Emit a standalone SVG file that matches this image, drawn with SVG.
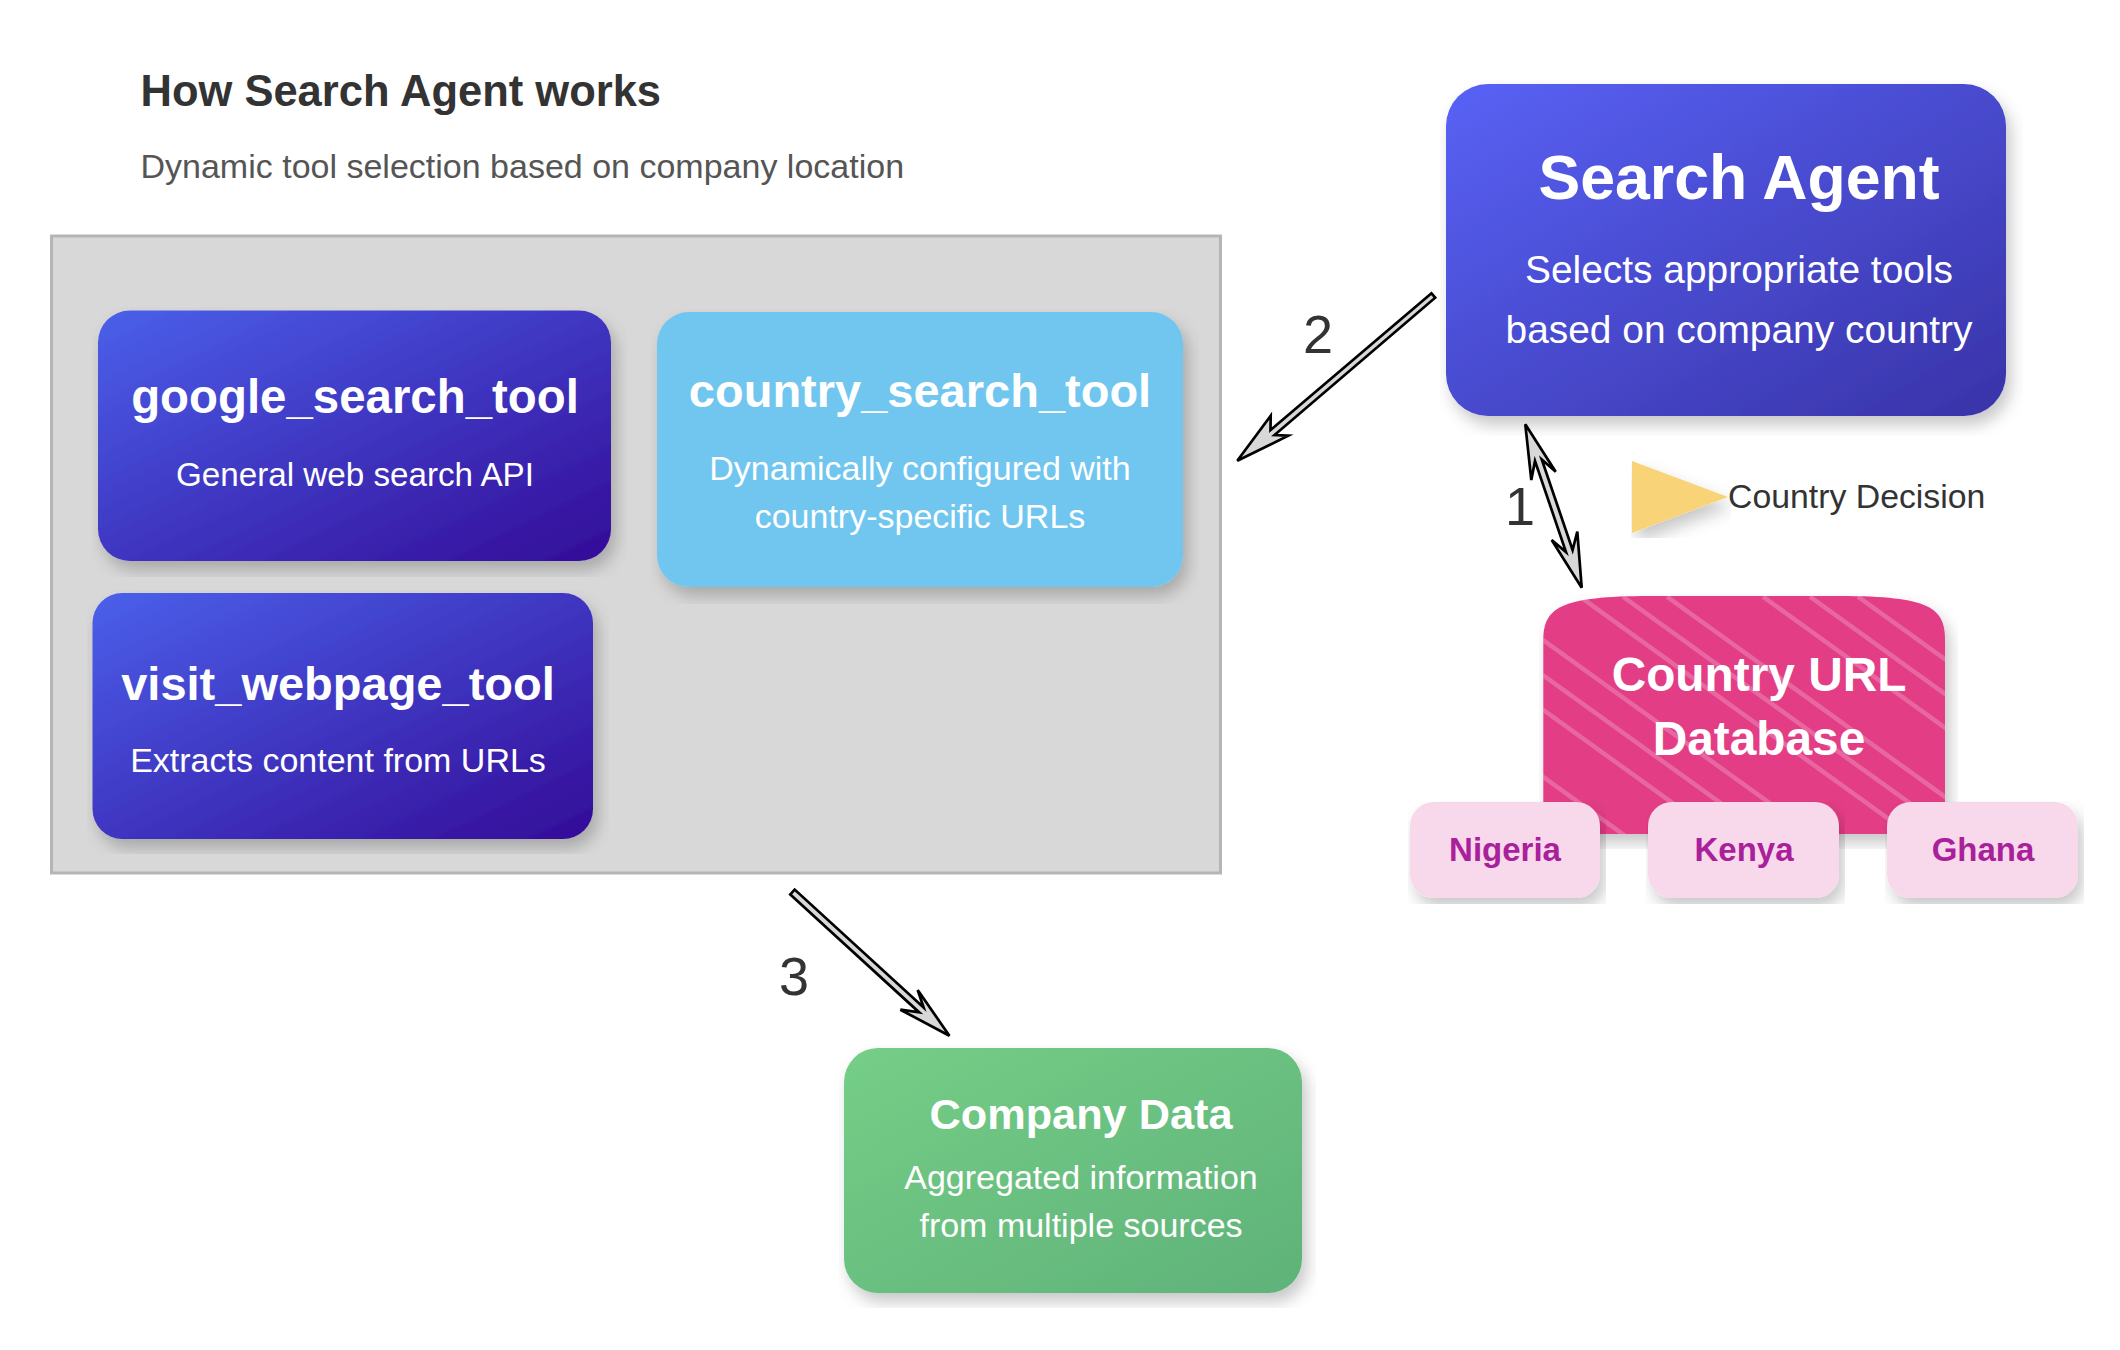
<svg xmlns="http://www.w3.org/2000/svg" width="2120" height="1350" viewBox="0 0 2120 1350">
<style>
text{font-family:"Liberation Sans",Arial,sans-serif;text-anchor:middle;fill:#fff}
.b{font-weight:700}
.head{font-size:47px;font-weight:700}
.sub{font-size:34px}
.chip{font-size:33px;font-weight:700;fill:#a8209a}
.num{font-size:54px;fill:#333}
.arrow{fill:#d8d8d8;stroke:#000;stroke-width:2.7;stroke-linejoin:miter}
.hatch line{stroke:#fff;stroke-opacity:.22;stroke-width:4.5}
</style>
<defs>
<filter id="sh" x="-1%" y="-1%" width="104%" height="107%">
<feDropShadow dx="5" dy="9" stdDeviation="8" flood-color="#000" flood-opacity=".22"/>
</filter>
<linearGradient id="gAgent" x1="0" y1="0" x2="1" y2="1"><stop offset="0" stop-color="#5862f5"/><stop offset="1" stop-color="#3933a8"/></linearGradient>
<linearGradient id="gTool" x1="0" y1="0" x2="1" y2="1"><stop offset="0" stop-color="#4a60ea"/><stop offset="1" stop-color="#340c98"/></linearGradient>
<linearGradient id="gData" x1="0" y1="0" x2="1" y2="1"><stop offset="0" stop-color="#75ce87"/><stop offset="1" stop-color="#5fb279"/></linearGradient>
<clipPath id="dbClip"><path d="M1543.3,640C1543.3,608 1560,596 1650,596L1840,596C1930,596 1945,608 1945,640L1945,834L1543.3,834Z"/></clipPath>
</defs>

<g id="title">
<text x="140.500" y="106" class="b" style="text-anchor:start;font-size:43.500px;fill:#333">How Search Agent works</text>
<text x="140.500" y="178" style="text-anchor:start;font-size:34px;fill:#555">Dynamic tool selection based on company location</text>
</g>

<g id="tools-container"><rect x="51.500" y="236" width="1169" height="637" fill="#d8d8d8" stroke="#b5b5b5" stroke-width="3"/></g>

<g id="google_search_tool">
<rect x="98" y="310.500" width="513" height="250.500" rx="32" fill="url(#gTool)" filter="url(#sh)"/>
<text x="355" y="412.500" class="b" style="font-size:47.400px">google_search_tool</text>
<text x="355" y="486" style="font-size:33.200px">General web search API</text>
</g>

<g id="country_search_tool">
<rect x="657" y="312" width="526" height="275" rx="32" fill="#70c6ef" filter="url(#sh)"/>
<text x="920" y="407" class="head">country_search_tool</text>
<text x="920" y="480" class="sub">Dynamically configured with</text>
<text x="920" y="527.500" class="sub">country-specific URLs</text>
</g>

<g id="visit_webpage_tool">
<rect x="92.500" y="593" width="500.500" height="246" rx="30" fill="url(#gTool)" filter="url(#sh)"/>
<text x="338" y="700" class="b" style="font-size:47px">visit_webpage_tool</text>
<text x="338" y="772" class="sub">Extracts content from URLs</text>
</g>

<g id="search_agent">
<rect x="1446" y="84" width="560" height="332" rx="42" fill="url(#gAgent)" filter="url(#sh)"/>
<text x="1739" y="199" class="b" style="font-size:62.600px">Search Agent</text>
<text x="1739" y="282.500" style="font-size:38.900px">Selects appropriate tools</text>
<text x="1739" y="343" style="font-size:38.900px">based on company country</text>
</g>

<g id="country_decision">
<polygon points="1632,461 1728,497 1632,533" fill="#f8d377" filter="url(#sh)"/>
<text x="1728" y="508" style="text-anchor:start;font-size:33.800px;fill:#333">Country Decision</text>
</g>

<g id="country_url_database">
<path d="M1543.3,640C1543.3,608 1560,596 1650,596L1840,596C1930,596 1945,608 1945,640L1945,834L1543.3,834Z" fill="#e33d86" filter="url(#sh)"/>
<g class="hatch" clip-path="url(#dbClip)">
<line x1="1858" y1="596.700" x2="2158" y2="812.700"/>
<line x1="1810" y1="596.700" x2="2110" y2="812.700"/>
<line x1="1763" y1="596.700" x2="2063" y2="812.700"/>
<line x1="1667" y1="596.700" x2="1967" y2="812.700"/>
<line x1="1623" y1="596.700" x2="1923" y2="812.700"/>
<line x1="1580" y1="596.700" x2="1920" y2="841.500"/>
<line x1="1483" y1="596.700" x2="1883" y2="884.700"/>
<line x1="1434" y1="596.700" x2="1834" y2="884.700"/>
<line x1="1386" y1="596.700" x2="1786" y2="884.700"/>
<line x1="1293" y1="596.700" x2="1693" y2="884.700"/>
<line x1="1245" y1="596.700" x2="1645" y2="884.700"/>
</g>
<text x="1759" y="691" class="b" style="font-size:47.800px">Country URL</text>
<text x="1759" y="755" class="b" style="font-size:47.800px">Database</text>
</g>

<g id="nigeria"><rect x="1410" y="802" width="190" height="96" rx="24" fill="#f8d8eb" filter="url(#sh)"/><text x="1505" y="861" class="chip">Nigeria</text></g>
<g id="kenya"><rect x="1648" y="802" width="191" height="96" rx="24" fill="#f8d8eb" filter="url(#sh)"/><text x="1744" y="861" class="chip">Kenya</text></g>
<g id="ghana"><rect x="1887" y="802" width="191" height="96" rx="24" fill="#f8d8eb" filter="url(#sh)"/><text x="1983" y="861" class="chip">Ghana</text></g>

<g id="company_data">
<rect x="844" y="1048" width="458" height="245" rx="34" fill="url(#gData)" filter="url(#sh)"/>
<text x="1081" y="1128.500" class="b" style="font-size:43.300px">Company Data</text>
<text x="1081" y="1189" class="sub">Aggregated information</text>
<text x="1081" y="1237" class="sub">from multiple sources</text>
</g>

<g id="connectors">
<polygon class="arrow" points="1525.3,424.300 1555.700,471.700 1541.800,459.500 1572.600,550 1577.300,531.700 1581.700,587.700 1551.700,540 1566,552 1535,461 1531.300,480"/>
<polygon class="arrow" points="1431.500,293.300 1270.500,430 1270.700,415.700 1237.300,460.700 1288.300,435.700 1274.500,435 1435.200,297.700"/>
<polygon class="arrow" points="790.300,894.400 919.200,1012.400 900.400,1009.700 949.400,1035.700 917.700,990 923.600,1007.600 794.700,889.600"/>
<text x="1520" y="525" class="num">1</text>
<text x="1318" y="353" class="num">2</text>
<text x="794" y="995" class="num">3</text>
</g>
</svg>
